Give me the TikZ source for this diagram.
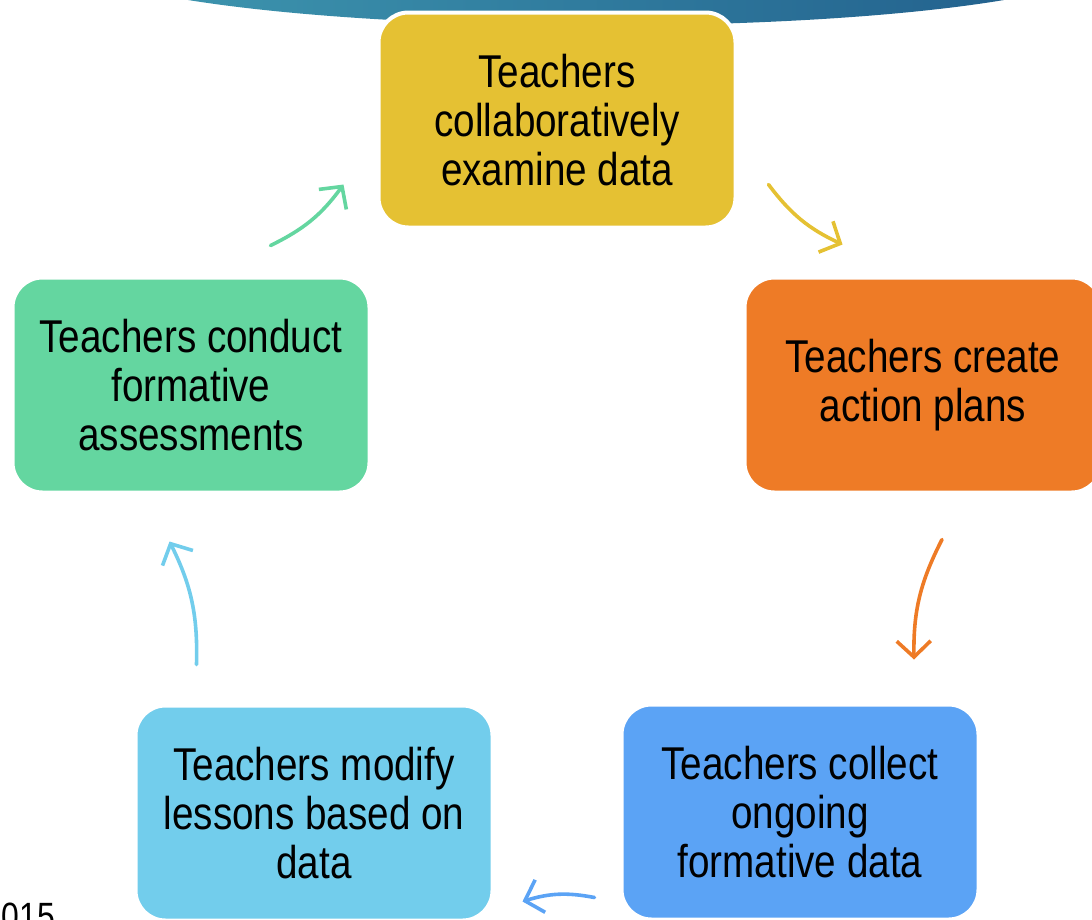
\documentclass[tikz,border=0pt]{standalone}
\usepackage{fontspec}
\setmainfont{Liberation Sans}[FakeStretch=0.84]
\usetikzlibrary{arrows.meta,positioning}

\definecolor{cyyellow}{HTML}{E5C133}
\definecolor{cyorange}{HTML}{EE7B26}
\definecolor{cyblue}{HTML}{5BA3F5}
\definecolor{cysky}{HTML}{72CDEC}
\definecolor{cygreen}{HTML}{64D6A0}
\definecolor{bannerl}{HTML}{3C93AD}
\definecolor{bannerr}{HTML}{23628E}

\tikzset{
  stage/.style={draw=white,line width=4pt,rounded corners=30pt,minimum width=357pt,
    minimum height=215pt,align=center,inner sep=0pt,
    font=\fontsize{46}{49}\selectfont},
  cyarrow/.style={line width=3.6pt,line cap=round,
    -{Straight Barb[length=16pt,width=34pt,line width=3.6pt]},bend right=14}
}

\begin{document}
\begin{tikzpicture}[x=1pt,y=-1pt]
\useasboundingbox (0,0) rectangle (1092,919);
% banner at the top
\shade[left color=bannerl,right color=bannerr]
  (188,0) .. controls (400,34) and (800,34) .. (1004,0) -- cycle;

\node[stage,fill=cyyellow] (ex) at (557,120) {Teachers\\collaboratively\\examine data};
\node[stage,fill=cyorange] (pl) at (923,385) {Teachers create\\action plans};
\node[stage,fill=cyblue] (co) at (800,812) {Teachers collect\\ongoing\\formative data};
\node[stage,fill=cysky] (mo) at (314,813) {Teachers modify\\lessons based on\\data};
\node[stage,fill=cygreen] (gr) at (191,385) {Teachers conduct\\formative\\assessments};

\draw[cyarrow,cyyellow] ([shift={(31,-45)}]ex.south east) to ([shift={(100,-31)}]pl.north west);
\draw[cyarrow,cyorange] ([shift={(19,45)}]pl.south) to ([shift={(114,-43)}]co.north);
\draw[cyarrow,cyblue] ([shift={(-25,-24)}]co.south west) to ([shift={(28,-21)}]mo.south east);
\draw[cyarrow,cysky] ([shift={(63,-39)}]mo.north west) to ([shift={(159,47)}]gr.south west);
\draw[cyarrow,cygreen] ([shift={(-101,-30)}]gr.north east) to ([shift={(-33,-45)}]ex.south west);

\node[anchor=base east,inner sep=0pt,font=\fontsize{38}{38}\selectfont] (yr) at (55,929) {2015};
\end{tikzpicture}
\end{document}
